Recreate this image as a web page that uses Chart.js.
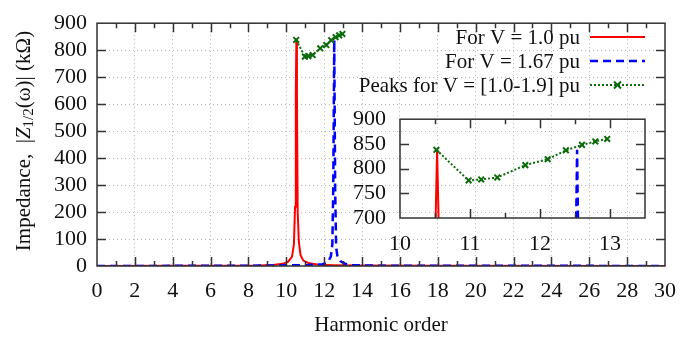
<!DOCTYPE html>
<html>
<head>
<meta charset="utf-8">
<script src="https://cdn.jsdelivr.net/npm/chart.js@4.4.1/dist/chart.umd.min.js"></script>
<style>
    html, body { margin: 0; padding: 0; background: #fff; }
    #wrap { position: relative; width: 695px; height: 338px; }
    #main { position: absolute; left: 0; top: 0; }
    #inset { position: absolute; left: 340px; top: 100px; }
</style>
</head>
<body>
<div id="wrap">
    <canvas id="main" width="695" height="338"></canvas>
    <canvas id="inset" width="320" height="160"></canvas>
</div>
<script>
const seriesLabels = ['For V = 1.0 pu', 'For V = 1.67 pu', 'Peaks for V = [1.0-1.9] pu'];

// V = 1.0 pu
const redX = [0, 4, 7, 8.5, 9.3, 9.8, 10.1, 10.3, 10.4, 10.46, 10.5, 10.53, 10.56, 10.6, 10.66, 10.75, 10.9, 11.2, 11.7, 12.5, 14, 18, 30];
const redY = [0, 0.5, 1, 2, 4, 8, 16, 35, 80, 220, 640, 838, 640, 200, 90, 40, 20, 10, 5, 3, 1.5, 0.8, 0.3];

// V = 1.67 pu
const blueX = [0, 8, 11, 11.9, 12.2, 12.35, 12.43, 12.48, 12.53, 12.58, 12.63, 12.7, 12.85, 13.1, 13.5, 15, 30];
const blueY = [0, 1, 3, 6, 15, 35, 80, 300, 838, 280, 70, 35, 18, 8, 3, 1, 0.3];

// Peaks V = 1.0 ... 1.9 pu
const peakX = [10.52, 10.98, 11.16, 11.39, 11.79, 12.11, 12.37, 12.6, 12.79, 12.96];
const peakY = [838, 776, 778, 782, 807, 819, 837, 848, 855, 860];

const FONT = "'Liberation Serif', 'Times New Roman', serif";
const AXIS = '#333';
const RED = '#ff0000';
const BLUE = '#0000ff';
const GREEN = '#0b6b0b';

const pts = (xs, ys) => xs.map((x, i) => ({ x, y: ys[i] }));

const makeDatasets = () => [
    {
        label: seriesLabels[0],
        data: pts(redX, redY),
        borderColor: RED,
        borderWidth: 2,
        pointRadius: 0,
        order: 3,
    },
    {
        label: seriesLabels[1],
        data: pts(blueX, blueY),
        borderColor: BLUE,
        borderWidth: 2.5,
        borderDash: [8, 5],
        pointRadius: 0,
        order: 2,
    },
    {
        label: seriesLabels[2],
        data: pts(peakX, peakY),
        borderColor: GREEN,
        borderWidth: 2,
        borderDash: [2, 2],
        pointStyle: 'crossRot',
        pointRadius: 4,
        pointBorderWidth: 2,
        pointBorderColor: GREEN,
        order: 1,
    },
];

/* caja + marcas hacia dentro */
const frame = (cfg) => ({
    id: 'frame',
    afterDatasetsDraw(chart) {
        const { ctx, chartArea: a, scales: { x, y } } = chart;
        ctx.save();
        ctx.strokeStyle = AXIS;
        ctx.lineWidth = 1.5;
        ctx.beginPath();
        for (let v = x.min + cfg.xMinor; v < x.max - 1e-6; v += cfg.xMinor) {
            const px = Math.round(x.getPixelForValue(v)) + 0.5;
            const major = Math.abs(v / cfg.xMajor - Math.round(v / cfg.xMajor)) < 1e-6;
            const len = major ? cfg.long : cfg.short;
            ctx.moveTo(px, a.bottom); ctx.lineTo(px, a.bottom - len);
            ctx.moveTo(px, a.top); ctx.lineTo(px, a.top + len);
        }
        for (let v = y.min + cfg.yStep; v < y.max - 1e-6; v += cfg.yStep) {
            const py = Math.round(y.getPixelForValue(v)) + 0.5;
            ctx.moveTo(a.left, py); ctx.lineTo(a.left + cfg.long, py);
            ctx.moveTo(a.right, py); ctx.lineTo(a.right - cfg.long, py);
        }
        ctx.stroke();
        ctx.strokeRect(a.left, a.top, a.right - a.left, a.bottom - a.top);
        ctx.restore();
    },
});

/* leyenda y títulos de ejes */
const decorations = {
    id: 'decorations',
    afterDraw(chart) {
        const { ctx, chartArea: a } = chart;
        ctx.save();
        ctx.fillStyle = '#111';
        ctx.font = `21px ${FONT}`;

        // leyenda
        const rows = [37, 61, 85];
        const textRight = 580, s0 = 590, s1 = 645;
        chart.data.datasets.forEach((ds, i) => {
            ctx.textAlign = 'right';
            ctx.textBaseline = 'middle';
            ctx.fillStyle = '#111';
            ctx.fillText(ds.label, textRight, rows[i] + 1);
            ctx.strokeStyle = ds.borderColor;
            ctx.lineWidth = ds.borderWidth;
            ctx.setLineDash(ds.borderDash || []);
            ctx.beginPath();
            ctx.moveTo(s0, rows[i]); ctx.lineTo(s1, rows[i]);
            ctx.stroke();
            if (ds.pointStyle === 'crossRot') {
                ctx.setLineDash([]);
                const m = (s0 + s1) / 2, r = 3.5;
                ctx.beginPath();
                ctx.moveTo(m - r, rows[i] - r); ctx.lineTo(m + r, rows[i] + r);
                ctx.moveTo(m - r, rows[i] + r); ctx.lineTo(m + r, rows[i] - r);
                ctx.stroke();
            }
        });
        ctx.setLineDash([]);

        // título eje x
        ctx.fillStyle = '#111';
        ctx.textAlign = 'center';
        ctx.textBaseline = 'middle';
        ctx.fillText('Harmonic order', (a.left + a.right) / 2, 325);

        // título eje y (con subíndice)
        const parts = [
            { t: 'Impedance,  |', f: `21px ${FONT}`, dy: 0 },
            { t: 'Z', f: `italic 21px ${FONT}`, dy: 0 },
            { t: '1/2', f: `15px ${FONT}`, dy: 5 },
            { t: '(ω)| (kΩ)', f: `21px ${FONT}`, dy: 0 },
        ];
        let total = 0;
        parts.forEach((p) => { ctx.font = p.f; p.w = ctx.measureText(p.t).width; total += p.w; });
        ctx.translate(24, 141);
        ctx.rotate(-Math.PI / 2);
        ctx.textAlign = 'left';
        let cx = -total / 2;
        parts.forEach((p) => {
            ctx.font = p.f;
            ctx.fillText(p.t, cx, p.dy);
            cx += p.w;
        });
        ctx.restore();
    },
};

const tickFont = { family: FONT, size: 22 };

new Chart(document.getElementById('main'), {
    type: 'line',
    data: { datasets: makeDatasets() },
    options: {
        responsive: false,
        animation: false,
        layout: { padding: { top: 15, right: 30, left: 0, bottom: 0 } },
        plugins: { legend: { display: false }, tooltip: { enabled: false } },
        scales: {
            x: {
                type: 'linear',
                min: 0,
                max: 30,
                afterFit: (s) => { s.height = 72; },
                ticks: { stepSize: 2, font: tickFont, color: '#111', padding: 12, maxRotation: 0, autoSkip: false },
                grid: { color: '#b5b5b5', lineWidth: 1, drawTicks: false },
                border: { display: false, dash: [1, 3] },
            },
            y: {
                min: 0,
                max: 900,
                afterFit: (s) => { s.width = 97; },
                ticks: { stepSize: 100, font: tickFont, color: '#111', padding: 10, autoSkip: false },
                grid: { color: '#b5b5b5', lineWidth: 1, drawTicks: false },
                border: { display: false, dash: [1, 3] },
            },
        },
    },
    plugins: [frame({ xMajor: 2, xMinor: 1, yStep: 100, long: 9, short: 5 }), decorations],
});

new Chart(document.getElementById('inset'), {
    type: 'line',
    data: { datasets: makeDatasets() },
    options: {
        responsive: false,
        animation: false,
        layout: { padding: { top: 13, right: 15, left: 0, bottom: 0 } },
        plugins: { legend: { display: false }, tooltip: { enabled: false } },
        scales: {
            x: {
                type: 'linear',
                min: 10,
                max: 13.5,
                afterFit: (s) => { s.height = 42; },
                ticks: {
                    stepSize: 0.5,
                    font: tickFont,
                    color: '#111',
                    padding: 5,
                    maxRotation: 0,
                    autoSkip: false,
                    callback: (v) => (Number.isInteger(v) ? v : ''),
                },
                grid: { display: false },
                border: { display: false },
            },
            y: {
                min: 700,
                max: 900,
                afterFit: (s) => { s.width = 60; },
                ticks: { stepSize: 50, font: tickFont, color: '#111', padding: 6, autoSkip: false },
                grid: { display: false },
                border: { display: false },
            },
        },
    },
    plugins: [frame({ xMajor: 1, xMinor: 0.5, yStep: 50, long: 9, short: 5 })],
});
</script>
</body>
</html>
